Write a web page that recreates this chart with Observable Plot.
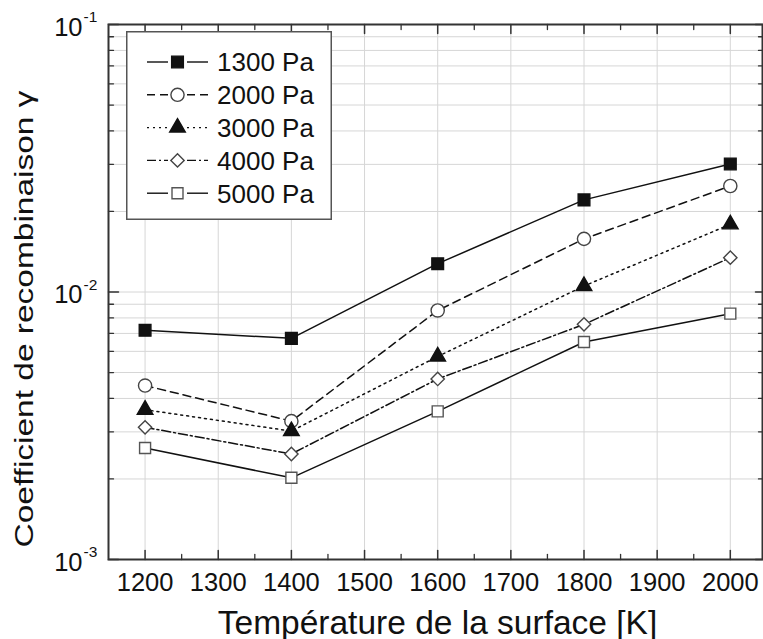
<!DOCTYPE html>
<html><head><meta charset="utf-8">
<script src="https://cdn.jsdelivr.net/npm/d3@7"></script>
<script src="https://cdn.jsdelivr.net/npm/@observablehq/plot@0.6"></script>
<style>
body{margin:0;background:#fff}
#wrap{position:relative;width:763px;height:639px;overflow:hidden}
#legend{position:absolute;left:126px;top:31px}
</style>
</head><body><div id="wrap"></div>
<script>
// ---- data ----
const temperatures = [1200, 1400, 1600, 1800, 2000];
const series = ["1300 Pa", "2000 Pa", "3000 Pa", "4000 Pa", "5000 Pa"];
const gamma1300 = [0.00719, 0.00671, 0.01276, 0.0221, 0.0301];
const gamma2000 = [0.00447, 0.00329, 0.00853, 0.0158, 0.0249];
const gamma3000 = [0.00363, 0.00302, 0.00574, 0.01053, 0.0179];
const gamma4000 = [0.00312, 0.00248, 0.00473, 0.00757, 0.01344];
const gamma5000 = [0.00261, 0.00202, 0.00358, 0.0065, 0.0083];
const xTicks = [1200, 1300, 1400, 1500, 1600, 1700, 1800, 1900, 2000];
const xMinorTicks = [1250, 1350, 1450, 1550, 1650, 1750, 1850, 1950];
const yMajorTicks = [1e-3, 1e-2, 1e-1];
const yExponents = ["-3", "-2", "-1"];
const yMinorTicks = [2e-3,3e-3,4e-3,5e-3,6e-3,7e-3,8e-3,9e-3,2e-2,3e-2,4e-2,5e-2,6e-2,7e-2,8e-2,9e-2];
const xTitle = "Température de la surface [K]";
const yTitle = "Coefficient de recombinaison γ";

// ---- styles ----
const values = [gamma1300, gamma2000, gamma3000, gamma4000, gamma5000];
const seriesStyle = {
  "1300 Pa": {symbol: "square",   fill: "#111", stroke: "#111", dash: null,        r: 6.6},
  "2000 Pa": {symbol: "circle",   fill: "#fff", stroke: "#444", dash: "8,5",       r: 6.6},
  "3000 Pa": {symbol: "triangle", fill: "#111", stroke: "#111", dash: "2,4",       r: 5.8},
  "4000 Pa": {symbol: "diamond2", fill: "#fff", stroke: "#444", dash: "9,3,2,3",   r: 6.0},
  "5000 Pa": {symbol: "square",   fill: "#fff", stroke: "#555", dash: null,        r: 6.2}
};
const rows = series.flatMap((s, i) => temperatures.map((t, j) => ({series: s, T: t, g: values[i][j]})));

const tickShape = {draw(context, l) { context.moveTo(0, 0); context.lineTo(0, -l); }};
const axisColor = "#333";
const gridColor = "#d6d6d6";
const font = "'Liberation Sans', Arial, sans-serif";

const marks = [
  Plot.gridX(xTicks, {stroke: gridColor, strokeOpacity: 1, strokeWidth: 1}),
  Plot.gridY(yMinorTicks.concat([1e-2]), {stroke: gridColor, strokeOpacity: 1, strokeWidth: 1})
];
for (const s of series) {
  const st = seriesStyle[s];
  const d = rows.filter(r => r.series === s);
  marks.push(Plot.line(d, {x: "T", y: "g", stroke: "#111", strokeWidth: 1.5, strokeDasharray: st.dash}));
}
for (const s of series) {
  const st = seriesStyle[s];
  const d = rows.filter(r => r.series === s);
  marks.push(Plot.dot(d, {x: "T", y: "g", symbol: () => st.symbol, r: st.r, fill: st.fill, stroke: st.stroke, strokeWidth: 1.4}));
}
marks.push(
  Plot.frame({stroke: axisColor, strokeWidth: 2}),
  // bottom ticks (inward)
  Plot.vector(xTicks, {x: d => d, frameAnchor: "bottom", length: 9, rotate: 0, anchor: "start", shape: tickShape, stroke: axisColor, strokeWidth: 1.5}),
  Plot.vector(xMinorTicks, {x: d => d, frameAnchor: "bottom", length: 5, rotate: 0, anchor: "start", shape: tickShape, stroke: axisColor, strokeWidth: 1.3}),
  // top ticks
  Plot.vector(xTicks, {x: d => d, frameAnchor: "top", length: 9, rotate: 180, anchor: "start", shape: tickShape, stroke: axisColor, strokeWidth: 1.5}),
  Plot.vector(xMinorTicks, {x: d => d, frameAnchor: "top", length: 5, rotate: 180, anchor: "start", shape: tickShape, stroke: axisColor, strokeWidth: 1.3}),
  // left ticks
  Plot.vector(yMajorTicks, {y: d => d, frameAnchor: "left", length: 10, rotate: 90, anchor: "start", shape: tickShape, stroke: axisColor, strokeWidth: 1.5}),
  Plot.vector(yMinorTicks, {y: d => d, frameAnchor: "left", length: 5, rotate: 90, anchor: "start", shape: tickShape, stroke: axisColor, strokeWidth: 1.3}),
  // right ticks
  Plot.vector(yMajorTicks, {y: d => d, frameAnchor: "right", length: 7, rotate: -90, anchor: "start", shape: tickShape, stroke: axisColor, strokeWidth: 1.5}),
  Plot.vector(yMinorTicks, {y: d => d, frameAnchor: "right", length: 4, rotate: -90, anchor: "start", shape: tickShape, stroke: axisColor, strokeWidth: 1.3}),
  // x tick labels
  Plot.text(xTicks, {x: d => d, frameAnchor: "bottom", dy: 23, text: d => String(d), fontSize: 25.5, lineAnchor: "middle", fill: "#111"}),
  // y tick labels 10^n
  Plot.text(yMajorTicks, {y: d => d, frameAnchor: "left", dx: -26, dy: 3, text: () => "10", textAnchor: "end", fontSize: 25.5, lineAnchor: "middle", fill: "#111"}),
  Plot.text(yMajorTicks, {y: d => d, frameAnchor: "left", dx: -25, dy: -7, text: (d, i) => yExponents[i], textAnchor: "start", fontSize: 15.5, lineAnchor: "middle", fill: "#111"}),
  // axis titles
  Plot.text([xTitle], {frameAnchor: "bottom", dx: 2, dy: 74, text: d => d, fontSize: 33.5, textAnchor: "middle", lineAnchor: "bottom", fill: "#111"}),
  Plot.text([yTitle], {frameAnchor: "left", dx: -84, dy: 27, rotate: -90, text: d => d, fontSize: 26, textAnchor: "middle", lineAnchor: "middle", fill: "#111"})
);

const chart = Plot.plot({
  width: 763, height: 639,
  marginTop: 24, marginLeft: 108, marginRight: 1, marginBottom: 80,
  style: {fontFamily: font, background: "#fff", overflow: "visible"},
  x: {type: "linear", domain: [1150, 2044], axis: null},
  y: {type: "log", domain: [1e-3, 1e-1], axis: null},
  marks
});
document.getElementById("wrap").appendChild(chart);

// stretch y title to the reference length
chart.querySelectorAll("text").forEach(t => {
  if (t.textContent === yTitle) { t.setAttribute("textLength", 457); t.setAttribute("lengthAdjust", "spacingAndGlyphs"); }
});

// ---- legend ----
const lw = 206, lh = 189, rowY0 = 31, rowStep = 32.8;
const leg = d3.select("#wrap").append("svg").attr("id", "legend").attr("width", lw).attr("height", lh)
  .style("font-family", font);
leg.append("rect").attr("x", 0.75).attr("y", 0.75).attr("width", lw - 1.5).attr("height", lh - 1.5)
  .attr("fill", "#fff").attr("stroke", "#555").attr("stroke-width", 1.5);
const symMap = {square: d3.symbolSquare, circle: d3.symbolCircle, triangle: d3.symbolTriangle, diamond2: d3.symbolDiamond2};
series.forEach((s, i) => {
  const st = seriesStyle[s];
  const y = rowY0 + i * rowStep;
  const g = leg.append("g").attr("transform", `translate(0,${y})`);
  [[21, 42], [61, 82]].forEach(([a, b]) => g.append("line").attr("x1", a).attr("x2", b).attr("y1", 0).attr("y2", 0)
    .attr("stroke", "#111").attr("stroke-width", 1.4).attr("stroke-dasharray", st.dash));
  g.append("path").attr("transform", "translate(51.5,0)")
    .attr("d", d3.symbol(symMap[st.symbol], Math.PI * st.r * st.r)())
    .attr("fill", st.fill).attr("stroke", st.stroke).attr("stroke-width", 1.4);
  g.append("text").attr("x", 91).attr("y", 0).attr("dy", "0.36em").attr("font-size", 26).attr("fill", "#111").text(s);
});
</script>
</body></html>
